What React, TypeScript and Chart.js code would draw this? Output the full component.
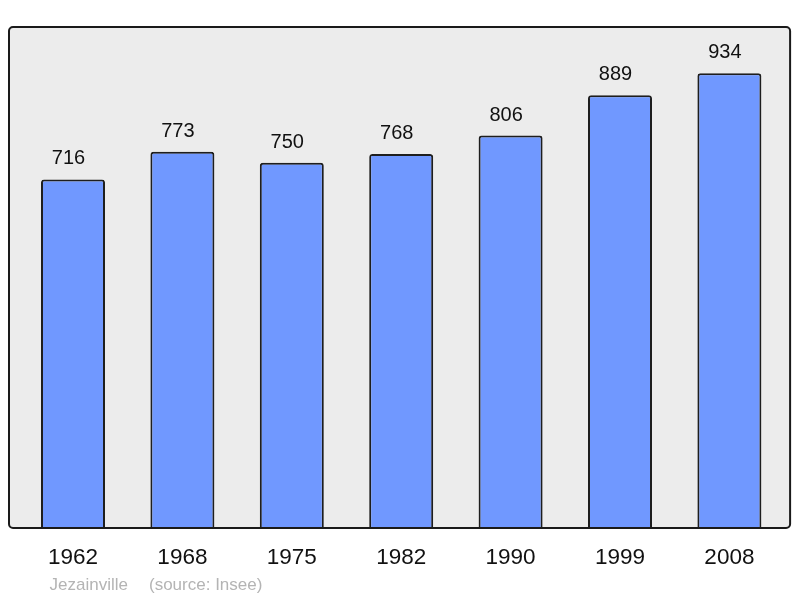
import React, { useEffect, useRef } from "react";
import { Chart, registerables } from "chart.js";

Chart.register(...registerables);

const years: string[] = ["1962", "1968", "1975", "1982", "1990", "1999", "2008"];
const population: number[] = [716, 773, 750, 768, 806, 889, 934];
const footerPlace = "Jezainville";
const footerSource = "(source: Insee)";

const FONT = "'Liberation Sans', Arial, sans-serif";

function roundRect(ctx: CanvasRenderingContext2D, x: number, y: number, w: number, h: number, r: number) {
  ctx.beginPath();
  ctx.moveTo(x + r, y);
  ctx.lineTo(x + w - r, y);
  ctx.arcTo(x + w, y, x + w, y + r, r);
  ctx.lineTo(x + w, y + h - r);
  ctx.arcTo(x + w, y + h, x + w - r, y + h, r);
  ctx.lineTo(x + r, y + h);
  ctx.arcTo(x, y + h, x, y + h - r, r);
  ctx.lineTo(x, y + r);
  ctx.arcTo(x, y, x + r, y, r);
  ctx.closePath();
}

const framePlugin = {
  id: "frame",
  beforeDatasetsDraw(chart: any) {
    const { ctx, chartArea } = chart;
    const x = chartArea.left - 9.3;
    const w = chartArea.right + 6 - x;
    ctx.save();
    roundRect(ctx, x, chartArea.top, w, chartArea.bottom - chartArea.top, 4);
    ctx.fillStyle = "#ececec";
    ctx.fill();
    ctx.restore();
  },
  afterDatasetsDraw(chart: any) {
    const { ctx, chartArea } = chart;
    const x = chartArea.left - 9.3;
    const w = chartArea.right + 6 - x;
    ctx.save();
    roundRect(ctx, x, chartArea.top, w, chartArea.bottom - chartArea.top, 4);
    ctx.lineWidth = 2;
    ctx.strokeStyle = "#1a1a1a";
    ctx.stroke();

    // value labels
    const meta = chart.getDatasetMeta(0);
    const data = chart.data.datasets[0].data as number[];
    ctx.fillStyle = "#111";
    ctx.font = `20px ${FONT}`;
    ctx.textAlign = "center";
    ctx.textBaseline = "alphabetic";
    meta.data.forEach((bar: any, i: number) => {
      ctx.fillText(String(data[i]), bar.x - 4.5, bar.y - 15);
    });

    // footer
    ctx.fillStyle = "#b4b4b4";
    ctx.font = `17px ${FONT}`;
    ctx.textAlign = "left";
    ctx.fillText(footerPlace, 49.5, 590);
    ctx.fillText(footerSource, 149, 590);
    ctx.restore();
  },
};

export default function App() {
  const ref = useRef<HTMLCanvasElement | null>(null);

  useEffect(() => {
    if (!ref.current) return;
    const chart = new Chart(ref.current, {
      type: "bar",
      data: {
        labels: years,
        datasets: [
          {
            data: population,
            backgroundColor: "#7098ff",
            borderColor: "#1e1e1e",
            borderWidth: 2,
            borderRadius: 3,
            barPercentage: 0.585,
            categoryPercentage: 1,
          },
        ],
      },
      options: {
        responsive: false,
        animation: false,
        layout: { padding: { left: 18.3, right: 15.9, top: 27, bottom: 0 } },
        plugins: {
          legend: { display: false },
          tooltip: { enabled: false },
          title: { display: false },
        },
        scales: {
          x: {
            grid: { display: false, drawTicks: false },
            border: { display: false },
            ticks: {
              color: "#111",
              padding: 16,
              font: { family: FONT, size: 22.5 },
            },
            afterFit(scale: any) {
              scale.height = 70;
            },
          },
          y: {
            display: false,
            min: 0,
            max: 1029,
          },
        },
      },
      plugins: [framePlugin],
    });
    return () => chart.destroy();
  }, []);

  return (
    <div style={{ position: "absolute", left: 0, top: 0, width: 800, height: 598, background: "#fff" }}>
      <canvas ref={ref} width={800} height={598} style={{ display: "block" }} />
    </div>
  );
}
